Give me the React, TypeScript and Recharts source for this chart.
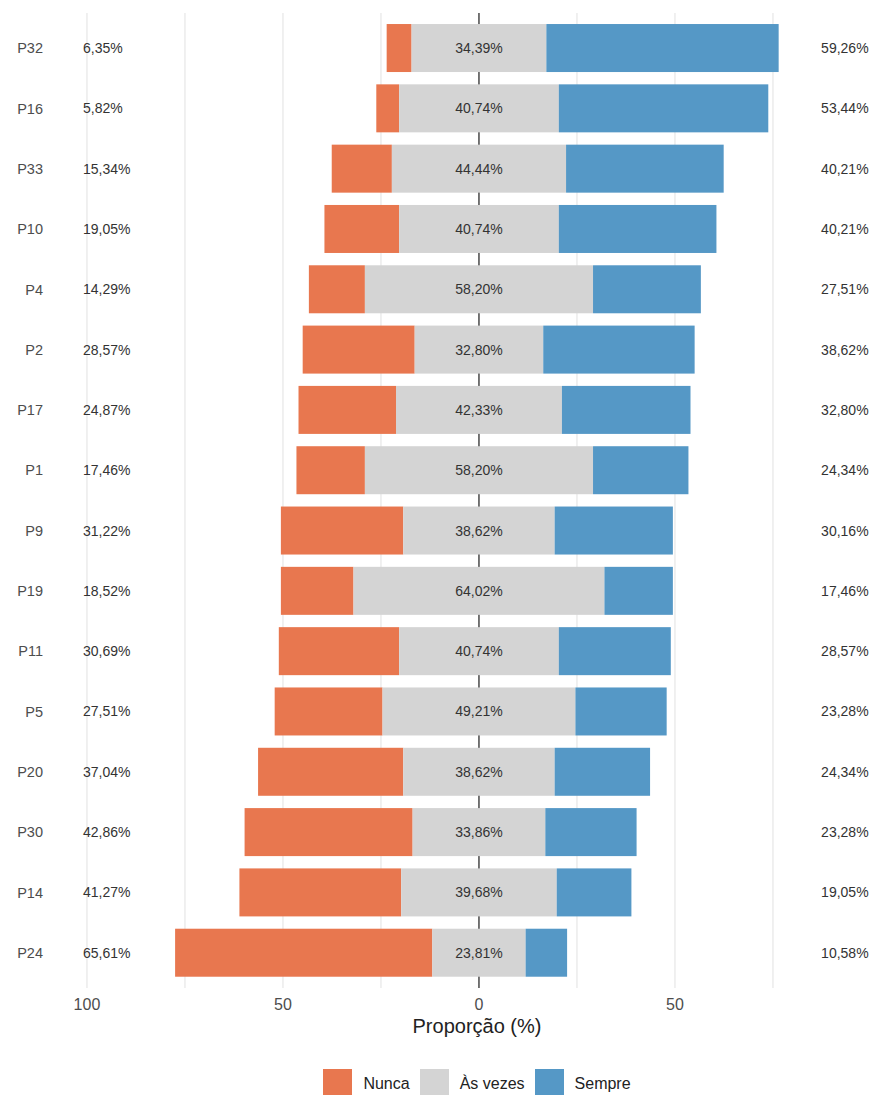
import React from 'react';
import { BarChart, Bar, XAxis, YAxis, CartesianGrid, Legend } from 'recharts';

const questions = ['P32', 'P16', 'P33', 'P10', 'P4', 'P2', 'P17', 'P1', 'P9', 'P19', 'P11', 'P5', 'P20', 'P30', 'P14', 'P24'];
const nunca = [6.35, 5.82, 15.34, 19.05, 14.29, 28.57, 24.87, 17.46, 31.22, 18.52, 30.69, 27.51, 37.04, 42.86, 41.27, 65.61];
const asVezes = [34.39, 40.74, 44.44, 40.74, 58.2, 32.8, 42.33, 58.2, 38.62, 64.02, 40.74, 49.21, 38.62, 33.86, 39.68, 23.81];
const sempre = [59.26, 53.44, 40.21, 40.21, 27.51, 38.62, 32.8, 24.34, 30.16, 17.46, 28.57, 23.28, 24.34, 23.28, 19.05, 10.58];

const levels = ['Nunca', 'Às vezes', 'Sempre'];
const colors = ['#E8774F', '#D4D4D4', '#5598C6'];
const xTicks = [-100, -75, -50, -25, 0, 25, 50, 75];
const labeledTicks = [-100, -50, 0, 50];
const zeroTicks = [0];
const xDomain = [-107.9, 106.9];
const leftLabelAt = -101;
const rightLabelAt = 99.4;

const FONT = '"Liberation Sans", Arial, Helvetica, sans-serif';

const data = questions.map((q, i) => ({
  q,
  offset: -(asVezes[i] / 2 + nunca[i]),
  nunca: nunca[i],
  asVezes: asVezes[i],
  sempre: sempre[i],
}));

const fmt = (v: number) => v.toFixed(2).replace('.', ',') + '%';

const labelStyle = { fontSize: 14, fill: '#333333', fontFamily: FONT };

const NuncaShape = (p: any) => {
  const { x, y, width, height, index } = p;
  const left = Math.min(x, x + width);
  const w = Math.abs(width);
  const ppu = w / nunca[index];
  const right = left + w;
  const lx = right + (leftLabelAt + asVezes[index] / 2) * ppu;
  return (
    <g>
      <rect x={left} y={y} width={w} height={height} fill={colors[0]} />
      <text x={lx} y={y + height / 2} textAnchor="start" dominantBaseline="central" {...labelStyle}>
        {fmt(nunca[index])}
      </text>
    </g>
  );
};

const AsVezesShape = (p: any) => {
  const { x, y, width, height, index } = p;
  const left = Math.min(x, x + width);
  const w = Math.abs(width);
  return (
    <g>
      <rect x={left} y={y} width={w} height={height} fill={colors[1]} />
      <text x={left + w / 2} y={y + height / 2} textAnchor="middle" dominantBaseline="central" {...labelStyle}>
        {fmt(asVezes[index])}
      </text>
    </g>
  );
};

const SempreShape = (p: any) => {
  const { x, y, width, height, index } = p;
  const left = Math.min(x, x + width);
  const w = Math.abs(width);
  const ppu = w / sempre[index];
  const lx = left + (rightLabelAt - asVezes[index] / 2) * ppu;
  return (
    <g>
      <rect x={left} y={y} width={w} height={height} fill={colors[2]} />
      <text x={lx} y={y + height / 2} textAnchor="end" dominantBaseline="central" {...labelStyle}>
        {fmt(sempre[index])}
      </text>
    </g>
  );
};

const renderLegend = () => (
  <div
    style={{
      display: 'flex',
      justifyContent: 'center',
      alignItems: 'center',
      height: 29,
      fontFamily: FONT,
      fontSize: 16,
      color: '#222222',
    }}
  >
    {levels.map((l, i) => (
      <div key={l} style={{ display: 'flex', alignItems: 'center', marginLeft: i === 0 ? 0 : 10 }}>
        <div style={{ width: 29, height: 29, background: colors[i] }} />
        <span style={{ marginLeft: 11, lineHeight: '29px' }}>{l}</span>
      </div>
    ))}
  </div>
);

export default function App() {
  return (
    <div
      style={{
        position: 'absolute',
        left: 0,
        top: 0,
        width: 869,
        height: 1095,
        overflow: 'hidden',
        background: '#ffffff',
        fontFamily: FONT,
      }}
    >
      <BarChart
        width={898}
        height={1098}
        data={data}
        layout="vertical"
        margin={{ top: 13, right: 0, bottom: 0, left: 0 }}
        barCategoryGap="10%"
        stackOffset="none"
      >
        <CartesianGrid vertical horizontal={false} syncWithTicks stroke="#E6E6E6" strokeWidth={1.2} />
        <CartesianGrid xAxisId="zero" vertical horizontal={false} syncWithTicks stroke="#333333" strokeWidth={1.3} />
        <XAxis
          type="number"
          domain={xDomain}
          allowDataOverflow
          ticks={xTicks}
          interval={0}
          tickFormatter={(v: number) => (labeledTicks.includes(v) ? String(Math.abs(v)) : '')}
          axisLine={false}
          tickLine={false}
          tickSize={0}
          tickMargin={11}
          height={81}
          tick={{ fontSize: 16, fill: '#4D4D4D' }}
          label={{ value: 'Proporção (%)', position: 'insideBottom', offset: 36, fill: '#222222', fontSize: 20 }}
        />
        <XAxis xAxisId="zero" type="number" domain={xDomain} allowDataOverflow ticks={zeroTicks} interval={0} hide />
        <YAxis
          type="category"
          dataKey="q"
          width={56}
          axisLine={false}
          tickLine={false}
          tickSize={0}
          tickMargin={13}
          padding={{ top: 5, bottom: 5 }}
          interval={0}
          tick={{ fontSize: 14.5, fill: '#4D4D4D' }}
        />
        <Bar dataKey="offset" stackId="s" fill="transparent" legendType="none" isAnimationActive={false} shape={() => <g />} />
        <Bar dataKey="nunca" stackId="s" fill={colors[0]} isAnimationActive={false} shape={NuncaShape} />
        <Bar dataKey="asVezes" stackId="s" fill={colors[1]} isAnimationActive={false} shape={AsVezesShape} />
        <Bar dataKey="sempre" stackId="s" fill={colors[2]} isAnimationActive={false} shape={SempreShape} />
        <Legend verticalAlign="bottom" content={renderLegend} wrapperStyle={{ left: 56, width: 842 }} />
      </BarChart>
    </div>
  );
}
